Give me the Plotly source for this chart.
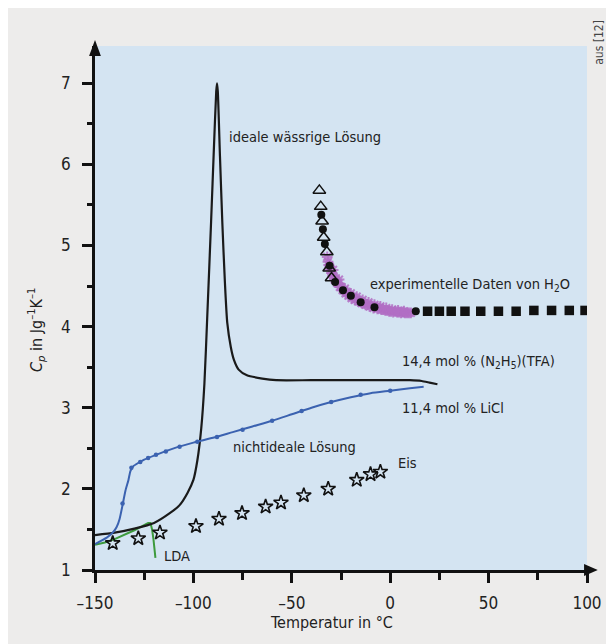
import plotly.graph_objects as go

FONT = "DejaVu Sans Condensed, Liberation Sans Narrow, Arial Narrow, sans-serif"

# ---------------- data ----------------
ideal_T = [-150, -140, -130, -120, -112, -107, -103, -100, -98, -96, -94.4, -93, -91, -89.5, -88.4, -88.0,
           -87.6, -86.5, -85.3, -84, -82.8, -81, -79.4, -77, -72.8, -65, -58, -40, -20, 0, 10, 16, 20, 24]
ideal_cp = [1.43, 1.46, 1.51, 1.58, 1.70, 1.80, 1.95, 2.11, 2.35, 2.75, 3.3, 4.1, 5.3, 6.25, 6.9, 7.0,
            6.9, 6.1, 5.28, 4.55, 4.05, 3.75, 3.59, 3.47, 3.40, 3.36, 3.34, 3.34, 3.34, 3.34, 3.34, 3.33, 3.31, 3.29]

licl_T = [-150, -147, -144, -141, -139, -137.5, -136, -134.5, -133, -132, -130.5, -128, -125, -120, -110,
          -100, -90, -80, -70, -60, -50, -40, -30, -20, -10, 0, 10, 17]
licl_cp = [1.32, 1.36, 1.40, 1.46, 1.53, 1.63, 1.80, 1.98, 2.11, 2.22, 2.28, 2.32, 2.36, 2.41, 2.50,
           2.57, 2.63, 2.70, 2.77, 2.84, 2.92, 3.00, 3.07, 3.13, 3.18, 3.21, 3.24, 3.26]
licl_dot_T = [-136, -131.5, -127, -123, -119, -114, -107, -98, -88, -75, -60, -45, -30, -15, 0]
licl_dot_cp = [1.82, 2.26, 2.33, 2.38, 2.42, 2.46, 2.52, 2.58, 2.64, 2.73, 2.84, 2.96, 3.07, 3.16, 3.21]

lda_T = [-150, -145, -140, -135, -130, -126, -123, -121.8, -121, -120.3, -119.8, -119.3]
lda_cp = [1.31, 1.34, 1.38, 1.43, 1.49, 1.54, 1.58, 1.58, 1.50, 1.38, 1.26, 1.15]

ice_T = [-141, -128, -117, -98.7, -87, -75.3, -63.3, -55.5, -43.9, -31.5, -17, -10, -5]
ice_cp = [1.33, 1.39, 1.46, 1.54, 1.63, 1.70, 1.78, 1.83, 1.92, 2.00, 2.11, 2.18, 2.21]

tri_T = [-36, -35.3, -34.6, -33.8, -32.2, -31, -29.8]
tri_cp = [5.68, 5.48, 5.30, 5.10, 4.92, 4.72, 4.60]

circ_T = [-35, -34.2, -33.2, -30.8, -28, -24, -20, -15, -8, 13]
circ_cp = [5.38, 5.20, 5.02, 4.75, 4.55, 4.45, 4.38, 4.30, 4.24, 4.19]

purple_T = [-32, -31.6, -31.2, -30.7, -30.2, -29.8, -29.3, -28.8, -28.2, -27.6, -27, -26.3, -25.6, -25, -24.2,
            -23.5, -22.7, -22, -21.2, -20.4, -19.6, -18.8, -18, -17.1, -16.2, -15.3, -14.4, -13.5, -12.5,
            -11.5, -10.5, -9.5, -8.5, -7.5, -6.5, -5.5, -4.5, -3.5, -2.5, -1.5, -0.5, 0.5, 1.5, 2.5, 3.5,
            4.5, 5.5, 6.5, 7.5, 8.5, 9.5, 10.5, -29, -26, -23, -20, -17, -14, -11, -8, -5, -2, 1, 4, 7]
purple_cp = [4.86, 4.80, 4.76, 4.74, 4.70, 4.66, 4.64, 4.62, 4.58, 4.57, 4.54, 4.53, 4.49, 4.49, 4.45,
             4.45, 4.41, 4.42, 4.38, 4.39, 4.35, 4.36, 4.33, 4.34, 4.31, 4.31, 4.29, 4.29, 4.27,
             4.27, 4.25, 4.26, 4.23, 4.24, 4.22, 4.23, 4.21, 4.21, 4.20, 4.20, 4.19, 4.19, 4.18, 4.19, 4.18,
             4.18, 4.17, 4.18, 4.17, 4.17, 4.17, 4.17, 4.70, 4.58, 4.47, 4.41, 4.37, 4.33, 4.30, 4.27, 4.25,
             4.23, 4.21, 4.20, 4.19]

sq_T = [19, 25, 31, 38, 46, 55, 64, 73, 82, 91, 99]
sq_cp = [4.19, 4.19, 4.19, 4.19, 4.19, 4.19, 4.19, 4.20, 4.20, 4.20, 4.20]

x_tickvals = [-150, -100, -50, 0, 50, 100]
x_ticktext = ["–150", "–100", "–50", "0", "50", "100"]
y_tickvals = [1, 2, 3, 4, 5, 6, 7]

# ---------------- figure ----------------
fig = go.Figure()

fig.add_trace(go.Scatter(x=lda_T, y=lda_cp, mode="lines", line=dict(color="#3d9a3d", width=2)))
fig.add_trace(go.Scatter(x=ideal_T, y=ideal_cp, mode="lines", line=dict(color="#1a1a1a", width=2.2, shape="spline", smoothing=0.6)))
fig.add_trace(go.Scatter(x=licl_T, y=licl_cp, mode="lines", line=dict(color="#3b62b0", width=2, shape="spline", smoothing=0.6)))
fig.add_trace(go.Scatter(x=licl_dot_T, y=licl_dot_cp, mode="markers", marker=dict(color="#3b62b0", size=4.5)))
fig.add_trace(go.Scatter(x=ice_T, y=ice_cp, mode="markers",
                         marker=dict(symbol="star-open", size=11, color="#111", line=dict(width=1.6, color="#111"))))
fig.add_trace(go.Scatter(x=purple_T, y=purple_cp, mode="markers",
                         marker=dict(symbol="asterisk-open", size=9, color="rgba(178,110,196,0.85)",
                                     line=dict(width=2, color="rgba(178,110,196,0.85)"))))
fig.add_trace(go.Scatter(x=tri_T, y=tri_cp, mode="markers",
                         marker=dict(symbol="triangle-up-open", size=11, color="#111", line=dict(width=1.5, color="#111"))))
fig.add_trace(go.Scatter(x=circ_T, y=circ_cp, mode="markers", marker=dict(symbol="circle", size=8, color="#111")))
fig.add_trace(go.Scatter(x=sq_T, y=sq_cp, mode="markers", marker=dict(symbol="square", size=9.5, color="#111")))

ann_font = dict(family=FONT, size=14.5, color="#222")
labels = [
    (-83, 6.34, "ideale wässrige Lösung"),
    (-11.5, 4.51, "experimentelle Daten von H<sub>2</sub>O"),
    (5, 3.57, "14,4 mol % (N<sub>2</sub>H<sub>5</sub>)(TFA)"),
    (5, 3.0, "11,4 mol % LiCl"),
    (-81, 2.52, "nichtideale Lösung"),
    (3, 2.32, "Eis"),
    (-116, 1.17, "LDA"),
]
annotations = [dict(x=x, y=y, text=t, xref="x", yref="y", xanchor="left", yanchor="middle",
                    showarrow=False, font=ann_font) for x, y, t in labels]
annotations.append(dict(x=-0.12, y=0.458, xref="paper", yref="paper", textangle=-90, showarrow=False,
                        text="<i>C</i><sub><i>p</i></sub> in Jg<sup>–1</sup>K<sup>–1</sup>",
                        font=dict(family=FONT, size=16, color="#222"), xanchor="center", yanchor="middle"))
annotations.append(dict(x=0.48, y=-0.10, xref="paper", yref="paper", showarrow=False,
                        text="Temperatur in °C", font=dict(family=FONT, size=16, color="#222"),
                        xanchor="center", yanchor="middle"))
annotations.append(dict(x=1.0239, y=1.0076, xref="paper", yref="paper", showarrow=False, textangle=-90,
                        text="aus [12]", font=dict(family=FONT, size=12, color="#444"),
                        xanchor="center", yanchor="middle"))

shapes = [
    # axis arrow heads
    dict(type="path", xref="paper", yref="paper",
         path="M -0.0120,0.981 L 0,1.0115 L 0.0120,0.981 Z", fillcolor="#111", line=dict(width=0), layer="above"),
    dict(type="path", xref="paper", yref="paper",
         path="M 0.994,-0.0115 L 1.0219,0 L 0.994,0.0115 Z", fillcolor="#111", line=dict(width=0), layer="above"),
]

# the page adds an 8 px body margin, so the figure is 8 px smaller and its margins 8 px tighter
fig.update_layout(
    width=606, height=636,
    margin=dict(l=87, r=17, t=38, b=74),
    paper_bgcolor="#edeceb", plot_bgcolor="#d4e4f2",
    showlegend=False,
    font=dict(family=FONT, size=17, color="#222"),
    annotations=annotations, shapes=shapes,
)
fig.update_xaxes(range=[-150, 100], tickvals=x_tickvals, ticktext=x_ticktext, showgrid=False, zeroline=False,
                 showline=True, linecolor="#111", linewidth=2.5, ticks="outside", ticklen=10, tickwidth=2.5,
                 tickcolor="#111", ticklabelstandoff=6,
                 minor=dict(dtick=25, tick0=-150, ticks="outside", ticklen=7, tickwidth=2.5, tickcolor="#111"))
fig.update_yaxes(range=[1, 7.46], tickvals=y_tickvals, showgrid=False, zeroline=False,
                 showline=True, linecolor="#111", linewidth=2.5, ticks="outside", ticklen=10, tickwidth=2.5,
                 tickcolor="#111", ticklabelstandoff=8,
                 minor=dict(dtick=0.5, tick0=1, ticks="outside", ticklen=5, tickwidth=2.5, tickcolor="#111"))

fig.write_html("out.html")
